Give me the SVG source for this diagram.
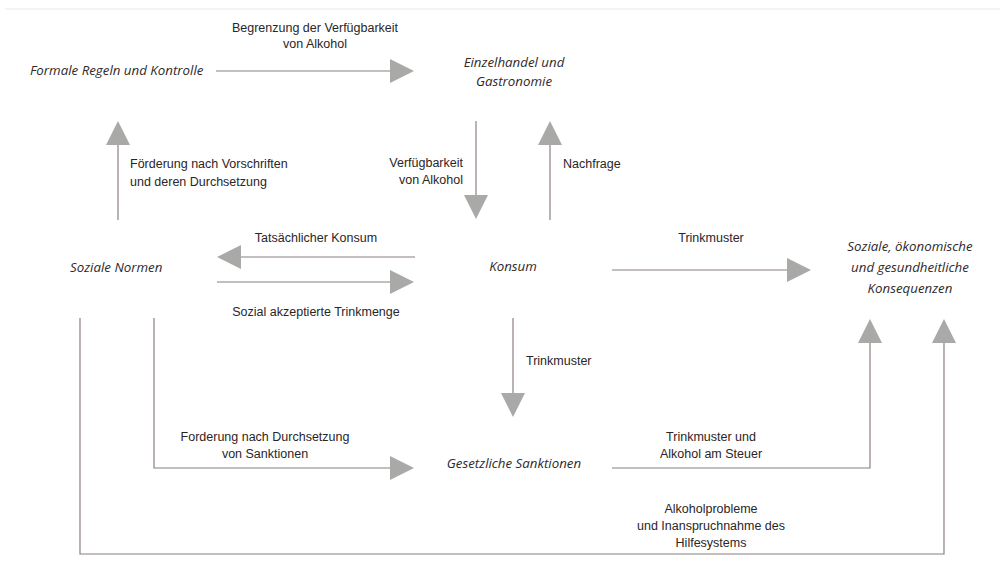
<svg xmlns="http://www.w3.org/2000/svg" width="1005" height="562" viewBox="0 0 1005 562">
<style>
  .node { font-family: "Open Sans", "Noto Sans", sans-serif; font-style: italic; font-size: 13.3px; fill: #2e292b; }
  .lbl { font-family: "Liberation Sans", Arial, sans-serif; font-size: 12.5px; fill: #2a2527; }
  .ln { stroke: #8c7f80; stroke-width: 1.2; fill: none; }
  .ah { fill: #a9a9a7; }
</style>
<rect width="1005" height="562" fill="#ffffff"/>
<line x1="5" y1="9" x2="1000" y2="9" stroke="#efe6e6" stroke-width="1"/>

<g id="n-formale"><text class="node" x="30" y="75">Formale Regeln und Kontrolle</text></g>
<g id="n-einzelhandel"><text class="node" text-anchor="middle" x="514" y="67">Einzelhandel und</text><text class="node" text-anchor="middle" x="514" y="86">Gastronomie</text></g>
<g id="n-soziale-normen"><text class="node" x="70" y="272">Soziale Normen</text></g>
<g id="n-konsum"><text class="node" text-anchor="middle" x="513" y="271">Konsum</text></g>
<g id="n-konsequenzen"><text class="node" text-anchor="middle" x="910" y="251">Soziale, ökonomische</text><text class="node" text-anchor="middle" x="910" y="272">und gesundheitliche</text><text class="node" text-anchor="middle" x="910" y="293">Konsequenzen</text></g>
<g id="n-sanktionen"><text class="node" text-anchor="middle" x="514" y="468">Gesetzliche Sanktionen</text></g>

<g id="connectors">
  <!-- Formale -> Einzelhandel -->
  <line class="ln" x1="216" y1="71" x2="391" y2="71"/>
  <polygon class="ah" points="390,59 414,71 390,83"/>
  <text class="lbl" text-anchor="middle" x="315" y="32">Begrenzung der Verfügbarkeit</text>
  <text class="lbl" text-anchor="middle" x="315" y="48">von Alkohol</text>

  <!-- Einzelhandel -> Konsum -->
  <line class="ln" x1="476" y1="121" x2="476" y2="196"/>
  <polygon class="ah" points="464,195 488,195 476,219"/>
  <text class="lbl" text-anchor="end" x="463" y="167">Verfügbarkeit</text>
  <text class="lbl" text-anchor="end" x="463" y="184">von Alkohol</text>

  <!-- Konsum -> Einzelhandel -->
  <line class="ln" x1="550" y1="220" x2="550" y2="144"/>
  <polygon class="ah" points="538,145 562,145 550,121"/>
  <text class="lbl" x="563" y="168">Nachfrage</text>

  <!-- Soziale Normen -> Formale -->
  <line class="ln" x1="118" y1="220" x2="118" y2="144"/>
  <polygon class="ah" points="106,145 130,145 118,121"/>
  <text class="lbl" x="130" y="168">Förderung nach Vorschriften</text>
  <text class="lbl" x="130" y="186">und deren Durchsetzung</text>

  <!-- Konsum -> Soziale Normen -->
  <line class="ln" x1="415" y1="257" x2="240" y2="257"/>
  <polygon class="ah" points="241,245 241,269 217,257"/>
  <text class="lbl" text-anchor="middle" x="316" y="242">Tatsächlicher Konsum</text>

  <!-- Soziale Normen -> Konsum -->
  <line class="ln" x1="217" y1="282" x2="391" y2="282"/>
  <polygon class="ah" points="390,270 414,282 390,294"/>
  <text class="lbl" text-anchor="middle" x="316" y="316">Sozial akzeptierte Trinkmenge</text>

  <!-- Konsum -> Konsequenzen -->
  <line class="ln" x1="612" y1="270" x2="788" y2="270"/>
  <polygon class="ah" points="787,258 811,270 787,282"/>
  <text class="lbl" text-anchor="middle" x="711" y="242">Trinkmuster</text>

  <!-- Konsum -> Sanktionen -->
  <line class="ln" x1="513" y1="318" x2="513" y2="394"/>
  <polygon class="ah" points="501,393 525,393 513,417"/>
  <text class="lbl" x="526" y="365">Trinkmuster</text>

  <!-- Soziale Normen -> Sanktionen -->
  <polyline class="ln" points="154,318 154,468 391,468"/>
  <polygon class="ah" points="390,456 414,468 390,480"/>
  <text class="lbl" text-anchor="middle" x="265" y="441">Forderung nach Durchsetzung</text>
  <text class="lbl" text-anchor="middle" x="265" y="458">von Sanktionen</text>

  <!-- Sanktionen -> Konsequenzen -->
  <polyline class="ln" points="612,468 870,468 870,342"/>
  <polygon class="ah" points="858,343 882,343 870,319"/>
  <text class="lbl" text-anchor="middle" x="711" y="441">Trinkmuster und</text>
  <text class="lbl" text-anchor="middle" x="711" y="458">Alkohol am Steuer</text>

  <!-- Soziale Normen -> Konsequenzen (bottom) -->
  <polyline class="ln" points="80,318 80,554 944,554 944,342"/>
  <polygon class="ah" points="932,343 956,343 944,319"/>
  <text class="lbl" text-anchor="middle" x="711" y="513">Alkoholprobleme</text>
  <text class="lbl" text-anchor="middle" x="711" y="530">und Inanspruchnahme des</text>
  <text class="lbl" text-anchor="middle" x="711" y="547">Hilfesystems</text>
</g>
</svg>
